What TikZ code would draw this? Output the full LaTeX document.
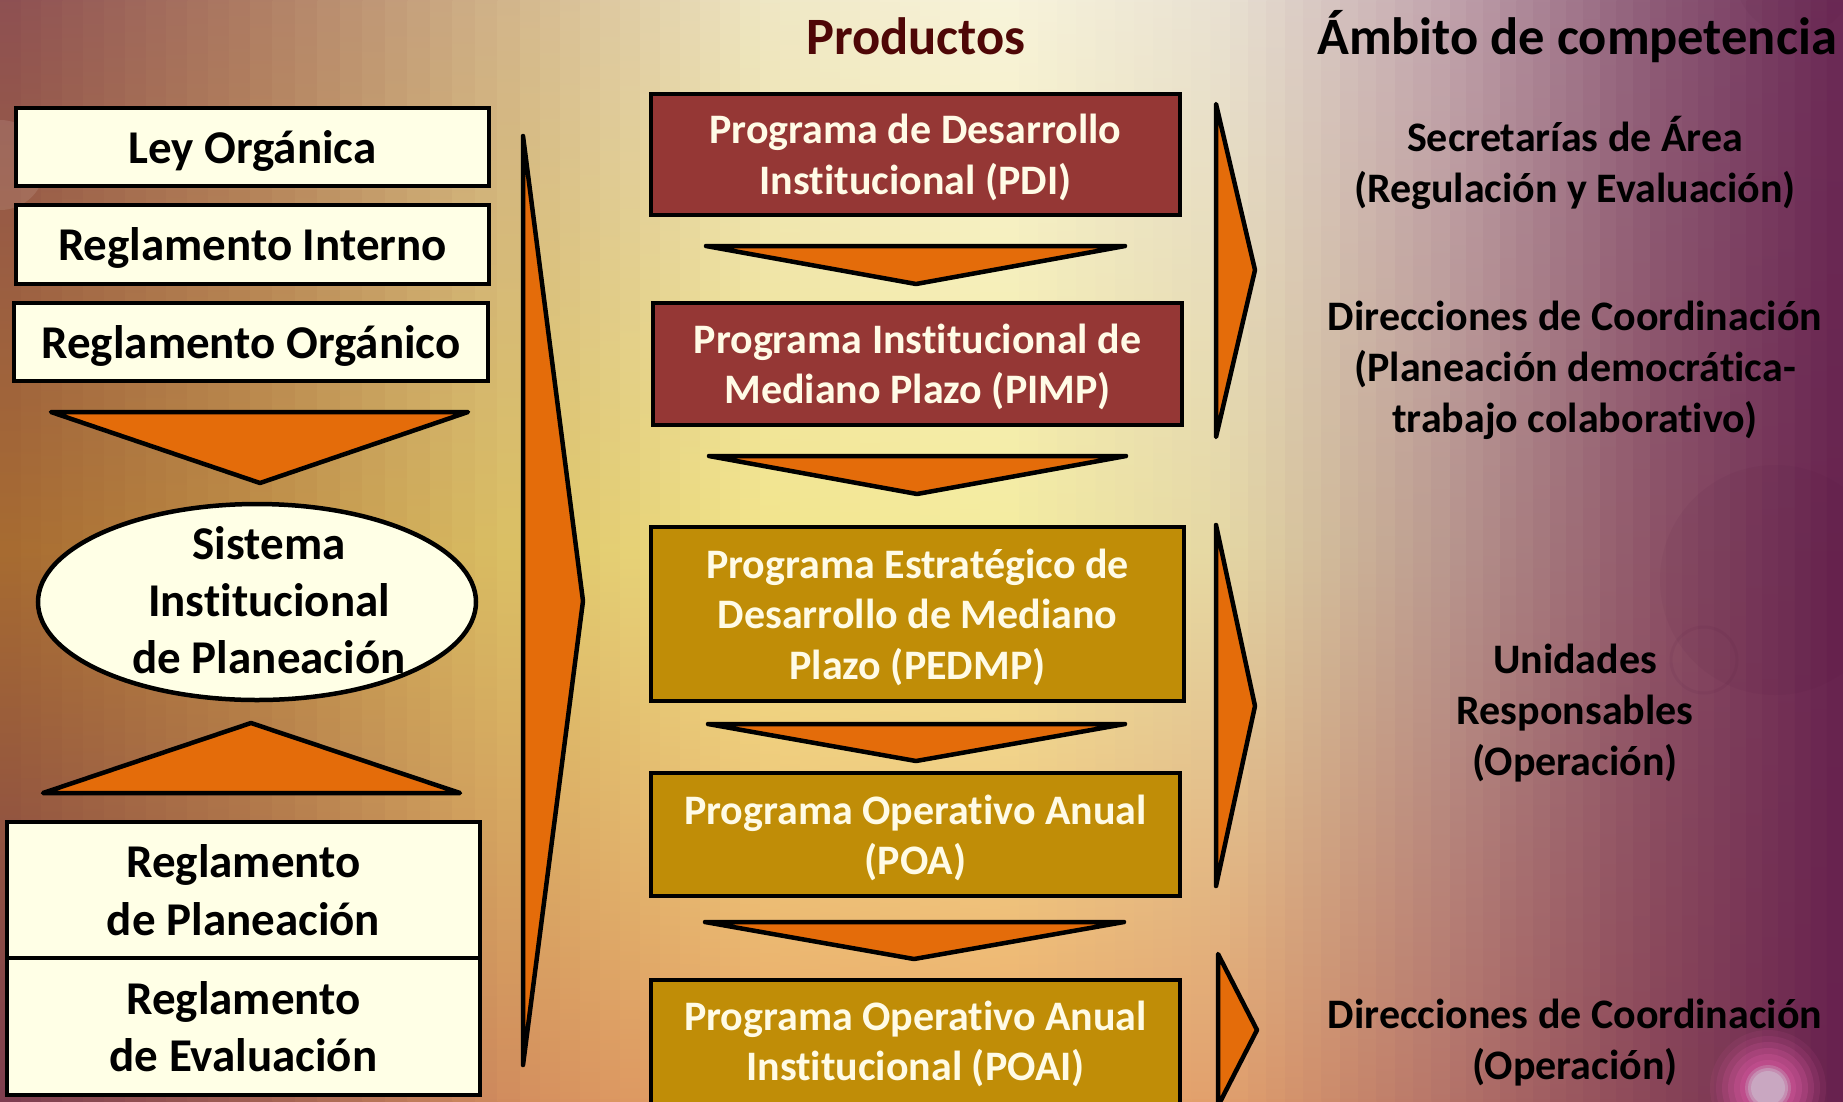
\documentclass[tikz,border=0pt]{standalone}
\usepackage{fontspec}
\setmainfont{Carlito}[Ligatures=NoCommon, RawFeature={-liga;-clig;-dlig}]
\usetikzlibrary{shapes.geometric}
% background key colours (top / middle / bottom) for 9 key columns
\definecolor{c0t}{HTML}{8C4E52}\definecolor{c0m}{HTML}{A66A30}\definecolor{c0b}{HTML}{7C3C50}
\definecolor{c1t}{HTML}{AE7C64}\definecolor{c1m}{HTML}{BE8C44}\definecolor{c1b}{HTML}{A05E52}
\definecolor{c2t}{HTML}{D4B88E}\definecolor{c2m}{HTML}{DCC266}\definecolor{c2b}{HTML}{D48E5E}
\definecolor{c3t}{HTML}{EEE6C4}\definecolor{c3m}{HTML}{F2E48A}\definecolor{c3b}{HTML}{E8A466}
\definecolor{c4t}{HTML}{F8F4DC}\definecolor{c4m}{HTML}{F4EC9E}\definecolor{c4b}{HTML}{ECA866}
\definecolor{c5t}{HTML}{E8E0D2}\definecolor{c5m}{HTML}{E4D6A4}\definecolor{c5b}{HTML}{E09E6C}
\definecolor{c6t}{HTML}{C0A2AC}\definecolor{c6m}{HTML}{B8968E}\definecolor{c6b}{HTML}{B47268}
\definecolor{c7t}{HTML}{8E5C78}\definecolor{c7m}{HTML}{8E5468}\definecolor{c7b}{HTML}{8A4658}
\definecolor{c8t}{HTML}{6A2854}\definecolor{c8m}{HTML}{66224E}\definecolor{c8b}{HTML}{66204E}
\definecolor{cream}{HTML}{FFFFE6}
\definecolor{orng}{HTML}{E46C0A}
\definecolor{redbox}{HTML}{953735}
\definecolor{goldbox}{HTML}{C08D07}
\definecolor{boxtxt}{HTML}{FFFBE6}
\definecolor{prodtxt}{HTML}{4F0707}
\definecolor{pinkglow}{HTML}{D0559A}
\definecolor{glowcore}{HTML}{CCB8CC}
\definecolor{darkcirc}{HTML}{4A1038}
\begin{document}
\begin{tikzpicture}[x=1pt,y=-1pt,
  lbox/.style={draw=black, line width=4pt, fill=cream, rectangle, inner sep=0pt,
    align=center, font=\fontsize{47}{57.5}\selectfont\bfseries},
  mbox/.style={draw=black, line width=4pt, rectangle, inner sep=0pt, text=boxtxt, text depth=0pt,
    align=center, font=\fontsize{42}{50.5}\selectfont\bfseries},
  rtext/.style={align=center, text=black, font=\fontsize{42}{51}\selectfont\bfseries},
  ttext/.style={font=\fontsize{52.5}{60}\selectfont\bfseries, anchor=base},
  tri/.style={draw=black, line width=4.5pt, fill=orng, line join=round, line cap=round},
]
\useasboundingbox (0,0) rectangle (1843,1101);
\clip (0,0) rectangle (1843,1101);
% ---------- background ----------
\fill[c4m] (-5,-5) rectangle (1848,1106);
\foreach \kk [evaluate=\kk as \kn using int(\kk+1)] in {0,...,7}{
  \pgfmathsetmacro\xa{{0,250,520,760,1000,1230,1450,1650,1843}[\kk]}
  \pgfmathsetmacro\xb{{0,250,520,760,1000,1230,1450,1650,1843}[\kn]}
  \foreach \jj in {0,...,11}{
    \pgfmathtruncatemacro\pp{(\jj+0.5)/12*100}
    \pgfmathsetmacro\xl{\xa+(\xb-\xa)*\jj/12}
    \pgfmathsetmacro\xr{\xa+(\xb-\xa)*(\jj+1)/12+1.5}
    \colorlet{ct}{c\kn t!\pp!c\kk t}
    \colorlet{cm}{c\kn m!\pp!c\kk m}
    \colorlet{cb}{c\kn b!\pp!c\kk b}
    \fill[top color=ct, bottom color=cb, middle color=cm] (\xl,-12) rectangle (\xr,1113);
    \fill[ct] (\xl,-12) rectangle (\xr,2);
    \fill[cb] (\xl,1099) rectangle (\xr,1113);
  }
}
% faint decorative circles
\fill[white, opacity=0.10] (0,165) circle (45);
\fill[darkcirc, opacity=0.06] (1775,580) circle (115);
\draw[darkcirc, opacity=0.07, line width=3pt] (1704,660) circle (33);
\fill[darkcirc, opacity=0.05] (1795,-25) circle (60);
\foreach \r/\o in {58/0.10, 52/0.14, 46/0.2, 40/0.26, 34/0.32, 28/0.36}{\fill[pinkglow, opacity=\o] (1768,1088) circle (\r);}
\foreach \r/\o in {23/0.3, 20/0.45, 17/0.6}{\fill[glowcore, opacity=\o] (1768,1088) circle (\r);}
% ---------- left column ----------
\node[lbox, text depth=0pt, minimum width=473pt, minimum height=78pt] (ley) at (252.5,147) {Ley Orgánica};
\node[lbox, text depth=0pt, minimum width=473pt, minimum height=79pt] (rint) at (252.5,244.5) {Reglamento Interno};
\node[lbox, text depth=0pt, minimum width=474pt, minimum height=78pt] (rorg) at (251,342) {Reglamento Orgánico};
\draw[tri] (51,412) -- (468,412) -- (260,483) -- cycle;
\node[ellipse, draw=black, line width=4.5pt, fill=cream, minimum width=438pt, minimum height=196pt, inner sep=0pt] (sip) at (257,602) {};
\node[align=center, font=\fontsize{47}{57}\selectfont\bfseries] (siptxt) at (269,600) {Sistema\\Institucional\\de Planeación};
\draw[tri] (43,793) -- (460,793) -- (251,723) -- cycle;
\node[lbox, text depth=-8pt, minimum width=473pt, minimum height=136pt] (rpla) at (243.5,890) {Reglamento\\de Planeación};
\node[lbox, minimum width=473pt, minimum height=137pt] (reva) at (243.5,1026.5) {Reglamento\\de Evaluación};
\draw[tri] (523,136) -- (583,601) -- (523,1065) -- cycle;
% ---------- middle column ----------
\node[ttext, text=prodtxt] (prod) at (916,54) {Productos};
\node[mbox, fill=redbox, minimum width=529pt, minimum height=121pt] (pdi) at (915.5,154.5) {Programa de Desarrollo\\Institucional (PDI)};
\draw[tri] (706,246) -- (1125,246) -- (916,284) -- cycle;
\node[mbox, fill=redbox, minimum width=529pt, minimum height=122pt] (pimp) at (917.5,364) {Programa Institucional de\\Mediano Plazo (PIMP)};
\draw[tri] (709,456) -- (1126,456) -- (917,494) -- cycle;
\node[mbox, fill=goldbox, minimum width=533pt, minimum height=174pt] (pedmp) at (917.5,614) {Programa Estratégico de\\Desarrollo de Mediano\\Plazo (PEDMP)};
\draw[tri] (708,724) -- (1125,724) -- (916,761) -- cycle;
\node[mbox, fill=goldbox, minimum width=529pt, minimum height=123pt] (poa) at (915.5,834.5) {Programa Operativo Anual\\(POA)};
\draw[tri] (705,922) -- (1124,922) -- (914,959) -- cycle;
\node[mbox, fill=goldbox, minimum width=529pt, minimum height=140pt] (poai) at (915.5,1050) {};
\node[align=center, text=boxtxt, font=\fontsize{42}{50.5}\selectfont\bfseries] (poaitxt) at (915.5,1044) {Programa Operativo Anual\\Institucional (POAI)};
% ---------- right chevrons ----------
\draw[tri] (1216,104) -- (1255,270) -- (1216,437) -- cycle;
\draw[tri] (1216,525) -- (1255,706) -- (1216,886) -- cycle;
\draw[tri] (1218,954) -- (1257,1030) -- (1218,1106) -- cycle;
% ---------- right column ----------
\node[ttext, text=black] (amb) at (1577,54) {Ámbito de competencia};
\node[rtext] (sec) at (1575,162.5) {Secretarías de Área\\(Regulación y Evaluación)};
\node[rtext] (dir1) at (1575,370.5) {Direcciones de Coordinación\\(Planeación democrática-\\trabajo colaborativo)};
\node[rtext] (uni) at (1575,713.5) {Unidades\\Responsables\\(Operación)};
\node[rtext] (dir2) at (1575,1042.5) {Direcciones de Coordinación\\(Operación)};
\end{tikzpicture}
\end{document}
